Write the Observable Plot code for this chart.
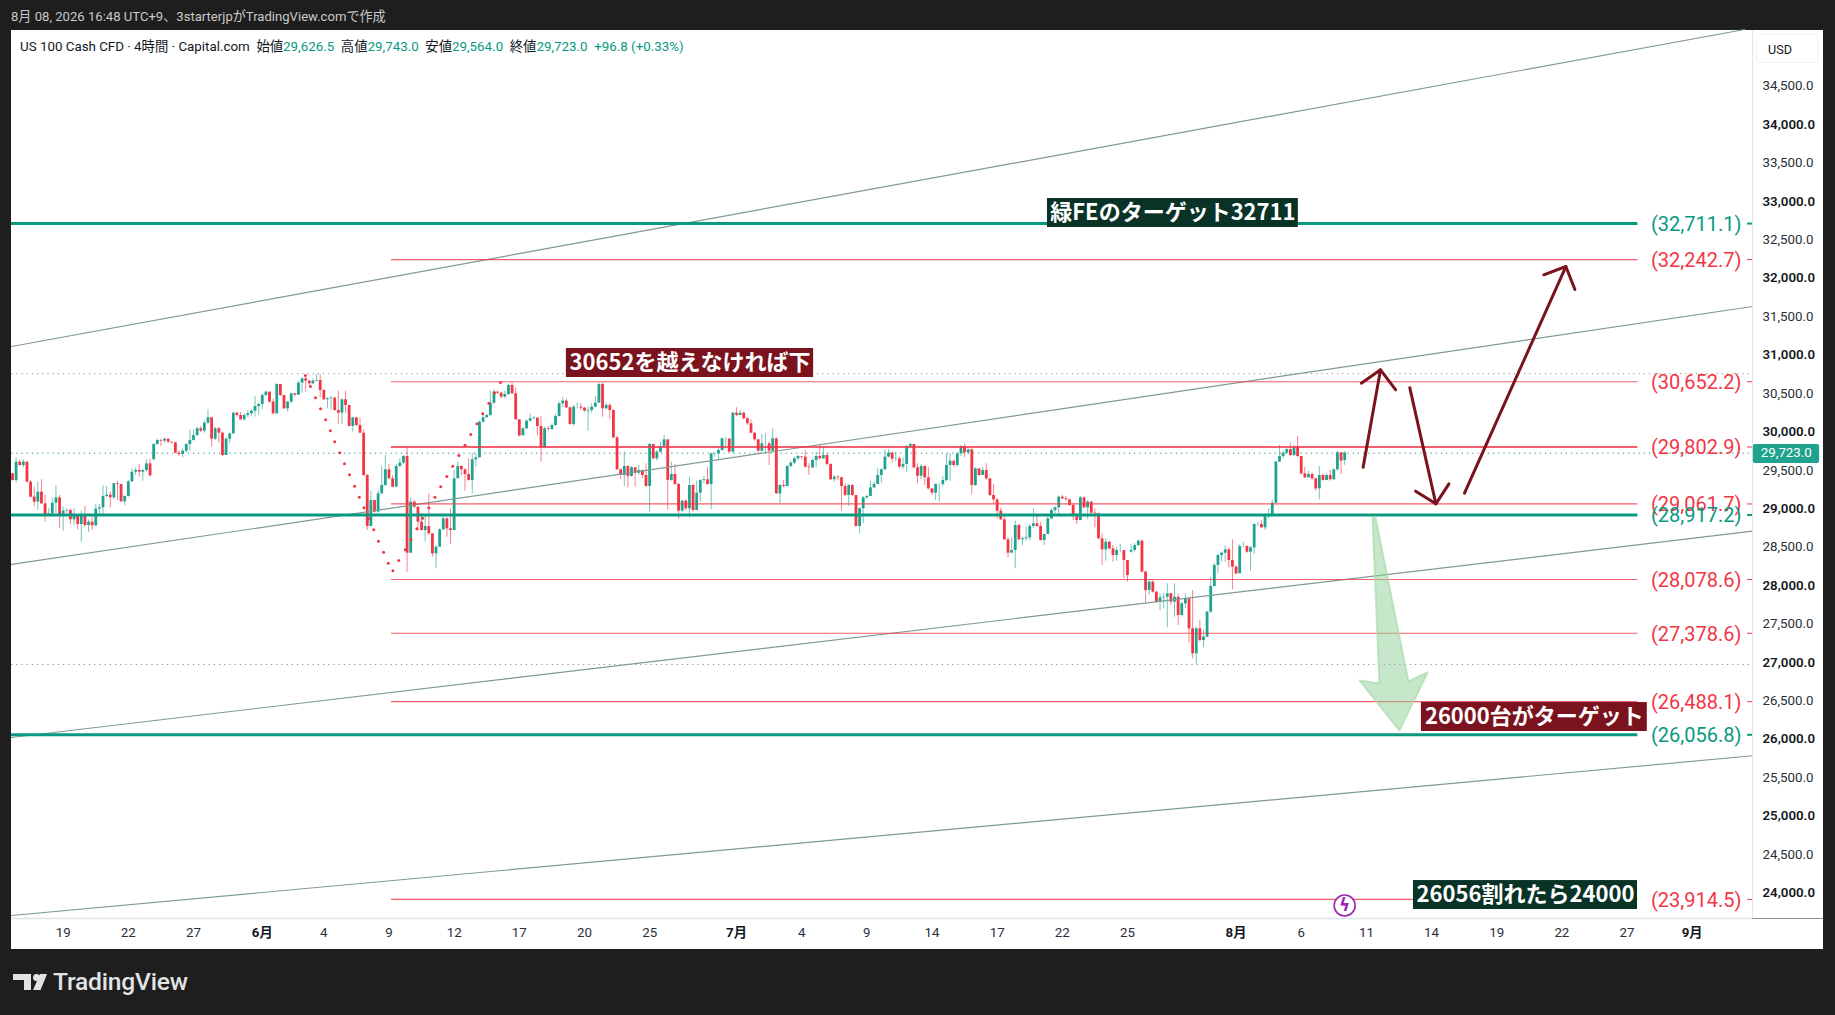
<!DOCTYPE html>
<html lang="ja">
<head>
<meta charset="utf-8">
<title>US 100 Cash CFD</title>
<script src="https://cdn.jsdelivr.net/npm/d3@7"></script>
<script src="https://cdn.jsdelivr.net/npm/@observablehq/plot@0.6"></script>
<style>
html,body{margin:0;padding:0;background:#1e1e1e;width:1835px;height:1015px;overflow:hidden;font-family:Roboto,"Noto Sans CJK JP",sans-serif}
#head{height:30px;line-height:34px;padding-left:11px;color:#c9c9c9;font-size:13.1px;box-sizing:border-box;white-space:nowrap}
#panel{position:relative;margin-left:11px;width:1812px;height:919px;background:#fff}
#panel svg{display:block;background:#fff}
#legend{position:absolute;left:9px;top:9px;font-size:13.35px;line-height:16px;color:#131722;white-space:nowrap}
#legend b{font-weight:400;color:#089981}
#usd{position:absolute;left:1745px;top:4px;width:63px;height:29px;line-height:29px;padding-left:11px;text-align:left;border:1px solid #f0f3fa;border-radius:4px;box-sizing:border-box;font-size:12.6px;color:#131722}
#foot{position:absolute;left:0;top:949px;width:1835px;height:66px}
#brand{position:absolute;left:53px;top:16px;color:#e2e4e4;font:500 24.6px/34px Roboto,sans-serif;letter-spacing:-.2px}
</style>
</head>
<body>
<div id="head">8月 08, 2026 16:48 UTC+9、3starterjpがTradingView.comで作成</div>
<div id="panel">
  <div id="legend">US 100 Cash CFD · 4時間 · Capital.com&nbsp;&nbsp;始値<b>29,626.5</b>&nbsp;&nbsp;高値<b>29,743.0</b>&nbsp;&nbsp;安値<b>29,564.0</b>&nbsp;&nbsp;終値<b>29,723.0</b>&nbsp;&nbsp;<b>+96.8 (+0.33%)</b></div>
  <div id="usd">USD</div>
</div>
<div id="foot">
  <svg width="50" height="66" style="position:absolute;left:0;top:0"><path fill="#e2e4e4" d="M13 25h18v16h-7v-10h-11z"/><circle cx="36.5" cy="28.5" r="3.5" fill="#e2e4e4"/><path fill="#e2e4e4" d="M40 25h7l-6.5 16h-7.5z"/></svg>
  <div id="brand">TradingView</div>
</div>
<script>
const firstOpen = 29454;
const openGaps = {39: 29636, 309: 28434, 368: 29626.5};
const closes = [29367,29606,29562,29606,29345,29150,29085,29215,29063,28911,28933,29072,29141,28898,28968,28976,28855,28898,28794,28924,28781,28825,28777,28994,29011,29159,29176,29141,29324,29315,29089,29159,29350,29475,29497,29475,29497,29584,29428,29836,
29888,29879,29905,29866,29857,29723,29705,29749,29836,29888,29953,30040,30009,30113,30183,29905,30040,29983,29692,29905,29974,30243,30213,30157,30213,30235,30269,30330,30356,30473,
30517,30387,30235,30617,30473,30300,30387,30495,30478,30634,30690,30660,30625,30660,30669,30538,30417,30430,30439,30278,30243,30417,30343,30070,30183,30083,29983,29432,28768,29107,
28955,29193,29302,29506,29389,29280,29549,29593,29679,28421,29085,29020,28825,28716,28768,28673,28412,28499,28725,28868,28738,28716,29389,29549,29506,29445,29367,29636,29662,30126,
30183,30213,30374,30517,30504,30452,30486,30604,30495,30157,29948,30040,30139,30170,30178,30070,29792,30040,30031,30083,30200,30365,30400,30313,30096,30321,30321,30308,30269,30278,
30321,30374,30617,30300,30343,30278,29922,29506,29432,29549,29419,29532,29462,29497,29432,29289,29836,29649,29736,29810,29896,29367,29445,29315,28968,29098,28998,29302,28976,29202,
29367,29376,29315,29714,29714,29757,29909,29909,29736,30243,30213,30243,30170,30105,29983,29896,29749,29844,29844,29749,29909,29193,29302,29289,29549,29593,29649,29679,29671,29540,
29532,29627,29679,29649,29692,29575,29376,29410,29402,29289,29172,29302,29172,28768,29000,29141,29159,29271,29315,29432,
29506,29671,29723,29645,29649,29541,29575,29810,29836,29532,29423,29549,29402,29258,29202,29315,29315,29367,29562,29619,29562,29714,29810,29727,29766,29302,29519,29432,29497,29389,
29172,29115,28968,28855,28595,28421,28456,28781,28595,28608,28621,28768,28803,28768,28586,28664,28868,28976,29011,29150,29128,29115,29042,28911,28846,29141,29011,29085,28942,28933,
28608,28464,28564,28477,28391,28456,28456,28326,28130,28456,28521,28577,28174,27935,28044,27913,27783,27840,27848,27892,27783,27848,27610,27761,27827,27436,27111,27436,27284,27328,
27653,27987,28261,28391,28421,28464,28326,28239,28152,28508,28508,28434,28490,28794,28794,28751,28911,28924,29072,29606,29679,29723,29770,29692,29792,29679,29454,29402,29445,29389,
29258,29432,29367,29432,29376,29506,29727,29619,29723];
const highs = [29462,29662,29636,29636,29584,29367,29280,29345,29376,29172,28998,29141,29302,29172,29020,28998,28998,28998,28924,28968,29029,28855,28890,29055,29055,29298,29289,29215,29332,29358,29315,29167,29367,29519,29532,29575,29506,29636,29649,29844,
29905,29905,29914,29905,29866,29866,29757,29779,29844,30026,30026,30061,30070,30139,30287,30183,30061,30061,29996,29922,29983,30256,30256,30256,30235,30278,30287,30460,30374,30495,
30530,30517,30430,30625,30617,30473,30400,30504,30495,30660,30703,30734,30669,30690,30747,30747,30547,30443,30460,30452,30530,30430,30530,30343,30191,30170,30183,30026,29445,29228,
29107,29228,29549,29692,29575,29432,29575,29649,29692,29801,29141,29107,29029,28933,28924,29193,28673,28521,28738,28890,28881,28998,29497,29606,29562,29519,29649,29723,29714,30139,
30256,30235,30530,30547,30530,30517,30530,30617,30634,30573,30157,30053,30157,30235,30200,30183,30200,30061,30070,30105,30226,30387,30452,30430,30321,30343,30374,30365,30321,30321,
30365,30460,30634,30634,30374,30365,30287,29940,29519,29736,29562,29549,29532,29562,29506,29584,29844,29836,29757,29866,29953,29896,29606,29575,29332,29107,29115,29410,29315,29358,
29376,29419,29532,29723,29731,29810,29922,29922,29888,30256,30313,30278,30256,30183,30157,29996,29905,29966,29974,29866,30040,29922,29315,29367,29562,29619,29671,29692,29679,29757,
29584,29649,29736,29836,29801,29714,29584,29432,29432,29410,29324,29315,29315,29172,29011,29159,29172,29358,29345,29519,
29519,29766,29766,29736,29736,29671,29662,29823,29853,29792,29584,29575,29562,29532,29258,29324,29324,29419,29714,29714,29619,29723,29823,29844,29779,29779,29532,29506,29541,29584,
29389,29315,29128,29011,28911,28621,28621,28838,28794,28629,28760,28794,28998,28933,28825,28673,28890,28998,29029,29167,29172,29159,29115,29063,28933,29159,29150,29107,29098,28998,
28942,28673,28608,28577,28521,28499,28534,28434,28326,28534,28543,28595,28595,28187,28074,28065,27926,27892,27900,28022,27900,28022,27892,27783,27892,27827,27935,27458,27545,27414,
27666,28109,28282,28412,28434,28521,28490,28595,28261,28534,28564,28521,28508,28803,28825,28846,28933,28998,29115,29619,29823,29749,29779,29853,29823,29940,29679,29541,29488,29462,
29389,29549,29454,29454,29497,29519,29749,29727,29743];
const lows = [29358,29332,29549,29532,29337,29141,29029,28985,29055,28825,28898,28911,28933,28738,28707,28942,28794,28781,28725,28564,28760,28694,28716,28768,28924,28924,29141,29011,29115,29107,29081,29037,29150,29341,29432,29410,29358,29475,29410,29636,
29827,29810,29853,29844,29844,29714,29679,29662,29723,29749,29879,29940,29992,29983,30096,29801,29888,29853,29679,29692,29844,29966,30191,30148,30139,30183,30200,30191,30213,30287,
30460,30374,30217,30226,30460,30291,30256,30365,30452,30473,30504,30517,30582,30617,30651,30443,30408,30300,30287,30269,30096,30096,30243,30061,29996,30070,29974,29419,28716,28768,
28942,28942,29185,29289,29376,29271,29280,29532,29575,28174,28421,29000,28707,28707,28564,28651,28369,28217,28499,28716,28629,28534,28716,29402,29432,29228,29358,29193,29540,29931,
30113,30183,30200,30356,30486,30426,30430,30473,30486,30148,29931,29957,30026,30126,30157,29953,29606,29779,30009,30018,30070,30191,30321,30300,30083,30070,30300,30278,30256,30009,
30243,30313,30374,30191,30287,30157,29914,29497,29376,29289,29271,29410,29280,29432,29389,29280,28955,29636,29619,29723,29801,28985,29358,29302,28855,28955,28976,28881,28955,29011,
29085,29324,29302,28985,29671,29636,29749,29792,29723,29714,30200,30213,30157,30083,29974,29879,29723,29736,29714,29562,29723,29185,29063,29271,29280,29532,29575,29627,29636,29532,
29432,29519,29532,29636,29649,29558,29367,29345,29367,28968,29159,29029,29159,28760,28673,28803,29115,29172,29258,29315,
29332,29497,29662,29593,29606,29519,29506,29475,29779,29519,29324,29376,29302,29245,29172,29107,29085,29289,29345,29358,29541,29541,29679,29662,29705,29185,29289,29419,29432,29367,
29159,29063,28868,28846,28586,28360,28421,28217,28577,28521,28577,28586,28738,28760,28577,28521,28664,28855,28933,28890,29115,29098,29029,28846,28794,28846,28998,28855,28924,28751,
28595,28261,28317,28464,28304,28317,28421,28087,28044,28421,28434,28508,28165,27770,27870,27900,27770,27675,27697,27449,27740,27588,27480,27588,27697,27250,27046,26972,27263,27189,
27319,27640,27978,28161,28304,28304,28230,27944,28139,28404,28490,28421,28187,28404,28768,28738,28716,28868,28890,29063,29606,29649,29705,29679,29679,29662,29432,29389,29402,29367,
29228,29115,29358,29367,29358,29376,29488,29445,29564];

const dotBars = [80.9,82.3,83.7,85.1,86.5,87.8,89,90.4,91.7,93.1,94.5,95.8,97.1,98.4,99.8,101.1,102.5,103.8,105.1,106.7,108.5,110.1,111.7,113.3,115,116.7,118.3,120,121.6,123.3,125,126.6,128.3,129.9,131.6,133.2,134.8];
const dotPrices = [30734,30591,30443,30300,30157,30013,29870,29727,29584,29441,29293,29150,29011,28868,28725,28577,28434,28291,28191,28326,28464,28599,28738,28877,29011,29150,29285,29419,29554,29692,29827,29966,30105,30235,30374,30508,30643];

const redLevels = [32242.7,30652.2,29802.9,29061.7,28078.6,27378.6,26488.1,23914.5];
const greenLevels = [32711.1,28917.2,26056.8];
const levelStart = 104.7, levelEnd = 449, levelLabelAt = 452.6, tickStart = 479.3;
const barMin = -0.276, barMax = 480.66, stripEnd = 500.3;
const dottedGrey = [30757,26972];
const lastPrice = 29723;

const trendLines = [
  {name:"A", bars:[-0.276,478.5], prices:[31111,35237]},
  {name:"B", bars:[-0.276,480.66], prices:[28274,31632]},
  {name:"C", bars:[-0.276,480.66], prices:[26022,28707]},
  {name:"D", bars:[-0.276,480.66], prices:[23705,25784]}
];
const arrows = [
  {name:"up1",  bars:[373.1,377.9], prices:[29540,30807], headBars:[372.6,377.9,382.1], headPrices:[30634,30807,30547]},
  {name:"down", bars:[386,393.2], prices:[30573,29063], headBars:[387.6,393.2,396.8], headPrices:[29228,29063,29323]},
  {name:"up2",  bars:[401.1,429.1], prices:[29202,32152], headBars:[423,429.1,431.6], headPrices:[32044,32152,31853]}
];
const greenArrowBars = [375.7,377.6,372.1,383.1,390.9,385.6,376.5];
const greenArrowPrices = [28885,26725,26764,26113,26868,26751,28885];

const notes = [
  {text:"緑FEのターゲット32711", b1:285.9, b2:355.2, p1:32660, p2:33037, bg:"#0a3328"},
  {text:"30652を越えなければ下", b1:153, b2:221.3, p1:30707, p2:31085, bg:"#7a131d"},
  {text:"26000台がターゲット", b1:389.2, b2:451.6, p1:26100, p2:26477, bg:"#7a131d"},
  {text:"26056割れたら24000", b1:387, b2:448.9, p1:23783, p2:24160, bg:"#0a3328"}
];

const dayBars = [14,32,50,86,104,122,140,158,176,218,236,254,272,290,308,356,374,392,410,428,446];
const dayLabels = ["19","22","27","4","9","12","17","20","25","4","9","14","17","22","25","6","11","14","19","22","27"];
const monthBars = [69,200,338,464];
const monthLabels = ["6月","7月","8月","9月"];
const priceMinor = d3.range(24500,35000,1000);
const priceMajor = d3.range(24000,35000,1000);

const bars = closes.map((c,i)=>{
  const o = i in openGaps ? openGaps[i] : (i===0 ? firstOpen : closes[i-1]);
  return {i, o, c, h:highs[i], l:lows[i]};
});
const UP = "#1fa38f", DOWN = "#f23645", LEVELUP = "#089981";
const candleColor = d => d.c >= d.o ? UP : DOWN;
const fmt = d3.format(",.1f");
const fontCJK = 'Roboto,"Noto Sans CJK JP",sans-serif';
const lineRows = a => a.bars.map((b,k)=>({b,p:a.prices[k],name:a.name}));
const headRows = a => a.headBars.map((b,k)=>({b,p:a.headPrices[k],name:a.name}));

const chart = Plot.plot({
  width:1812, height:919, marginLeft:0, marginRight:71, marginTop:0, marginBottom:31,
  style:{background:"#fff", fontFamily:fontCJK, overflow:"visible"},
  x:{domain:[barMin,barMax], axis:null},
  y:{domain:[23666,35224], axis:null},
  marks:[
    Plot.ruleY(dottedGrey,{stroke:"#8c8c8c",strokeDasharray:"1.2,4",strokeWidth:1,x1:barMin,x2:barMax}),
    Plot.ruleY([lastPrice],{stroke:LEVELUP,strokeDasharray:"1.2,4",strokeWidth:1,x1:barMin,x2:barMax}),
    Plot.ruleX(bars,{x:"i",y1:"l",y2:"h",stroke:candleColor,strokeWidth:1,strokeOpacity:.62}),
    Plot.ruleX(bars,{x:"i",y1:"o",y2:"c",stroke:candleColor,strokeWidth:2.8}),
    ...trendLines.map(t=>Plot.line(lineRows(t),{x:"b",y:"p",stroke:"#7f9b92",strokeWidth:1.2})),
    Plot.ruleY(redLevels,{x1:levelStart,x2:levelEnd,stroke:DOWN,strokeOpacity:.8,strokeWidth:d=>d===29802.9?2:1.2}),
    Plot.ruleY(greenLevels,{x1:barMin,x2:levelEnd,stroke:LEVELUP,strokeWidth:3}),
    Plot.ruleY(redLevels,{x1:tickStart,x2:barMax,stroke:DOWN,strokeWidth:1}),
    Plot.ruleY(greenLevels,{x1:tickStart,x2:barMax,stroke:LEVELUP,strokeWidth:2}),
    Plot.dot(dotBars.map((b,k)=>({b,p:dotPrices[k]})),{x:"b",y:"p",r:1.5,fill:DOWN}),
    Plot.line(greenArrowBars.map((b,k)=>({b,p:greenArrowPrices[k]})),{x:"b",y:"p",fill:"#8fcf96",fillOpacity:.5,stroke:"#a8dcae",strokeOpacity:.7,strokeWidth:2}),
    ...arrows.flatMap(a=>[
      Plot.line(lineRows(a),{x:"b",y:"p",stroke:"#7a131d",strokeWidth:3}),
      Plot.line(headRows(a),{x:"b",y:"p",stroke:"#7a131d",strokeWidth:3})
    ]),
    Plot.text(redLevels,{x:levelLabelAt,y:d=>d,dy:1,text:d=>`(${fmt(d)})`,textAnchor:"start",fill:DOWN,fontSize:20,fontFamily:"Roboto"}),
    Plot.text(greenLevels,{x:levelLabelAt,y:d=>d,dy:1,text:d=>`(${fmt(d)})`,textAnchor:"start",fill:LEVELUP,fontSize:20,fontFamily:"Roboto"}),
    Plot.rect(notes,{x1:"b1",x2:"b2",y1:"p1",y2:"p2",fill:"bg"}),
    Plot.text(notes,{x:d=>(d.b1+d.b2)/2,y:d=>(d.p1+d.p2)/2,text:"text",fill:"#fff",fontSize:22,fontWeight:700,fontFamily:'"Noto Sans CJK JP",sans-serif'}),
    Plot.dot([{b:368,p:23835}],{x:"b",y:"p",r:10.5,fill:"#fff",stroke:"#9c27b0",strokeWidth:1.6}),
    Plot.text([{b:368,p:23835}],{x:"b",y:"p",text:()=>"ϟ",fill:"#9c27b0",fontSize:17,fontWeight:700,fontFamily:"DejaVu Sans"}),
    Plot.ruleX([barMax],{stroke:"#e0e3eb",strokeWidth:1}),
    Plot.ruleY([23666],{x1:barMin,x2:barMax,stroke:"#e0e3eb",strokeWidth:1.5}),
    Plot.ruleY([23666],{x1:barMax,x2:stripEnd,stroke:"#8a8e97",strokeWidth:1}),
    Plot.axisY({anchor:"right",ticks:priceMinor,tickSize:0,tickPadding:10,tickFormat:fmt,fill:"#2a2e39",fontSize:13.3,fontFamily:"Roboto",textAnchor:"start",label:null}),
    Plot.axisY({anchor:"right",ticks:priceMajor,tickSize:0,tickPadding:10,tickFormat:fmt,fill:"#131722",fontSize:13.3,fontWeight:600,fontFamily:"Roboto",textAnchor:"start",label:null}),
    Plot.axisX({anchor:"bottom",ticks:dayBars,tickSize:0,tickPadding:9,tickFormat:d=>dayLabels[dayBars.indexOf(d)],fill:"#2a2e39",fontSize:13.3,label:null}),
    Plot.axisX({anchor:"bottom",ticks:monthBars,tickSize:0,tickPadding:9,tickFormat:d=>monthLabels[monthBars.indexOf(d)],fill:"#131722",fontSize:13.3,fontWeight:700,label:null}),
    Plot.rect([{b1:480.9,b2:499.2,p1:29588,p2:29835}],{x1:"b1",x2:"b2",y1:"p1",y2:"p2",fill:"#1fa38f",rx:2}),
    Plot.text([lastPrice],{x:490,y:d=>d,text:d=>fmt(d),fill:"#fff",fontSize:13.3,fontFamily:"Roboto"})
  ]
});
document.getElementById("panel").prepend(chart);
</script>
</body>
</html>
